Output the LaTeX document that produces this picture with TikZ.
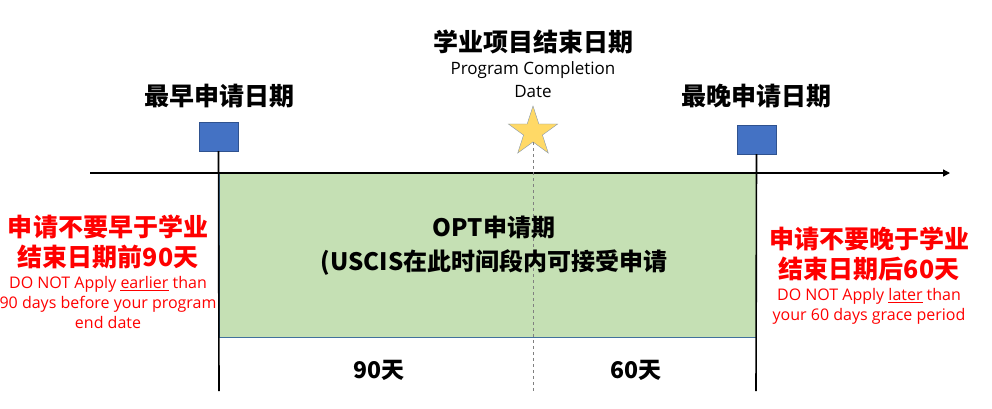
\documentclass[tikz,border=0pt]{standalone}
\usepackage{fontspec}
\setmainfont{Noto Sans CJK SC}
\newfontfamily\enfont{Open Sans}
\usetikzlibrary{shapes.geometric,arrows.meta,positioning}

\definecolor{optgreen}{HTML}{C5E0B4}
\definecolor{optedge}{HTML}{41719C}
\definecolor{flagblue}{HTML}{4472C4}
\definecolor{flagedge}{HTML}{2F528F}
\definecolor{stargold}{HTML}{FFD966}
\definecolor{staredge}{HTML}{8497B0}

\begin{document}
\begin{tikzpicture}[x=1pt,y=-1pt,
  flag/.style={draw=flagedge,fill=flagblue,minimum width=39pt,minimum height=29pt,inner sep=0pt},
  title/.style={font=\fontsize{25}{30}\selectfont\bfseries},
  warn/.style={text=red,align=center,inner sep=0pt,font=\fontsize{25}{30}\selectfont\bfseries},
  note/.style={text=red,align=center,inner sep=0pt,font=\enfont\fontsize{16}{20}\selectfont},
  pole/.style={line width=1.6pt}]
 \useasboundingbox (0,0) rectangle (992,408);

 % period box and axis
 \node[draw=optedge,fill=optgreen,minimum width=537pt,minimum height=164pt,inner sep=0pt] (optbox) at (487.5,255) {};
 \coordinate (axL) at (90,173);
 \coordinate (axR) at (950,173);
 \draw[line width=1.3pt,-{Triangle[length=7pt,width=7pt]}] (axL) -- (axR);

 % flags and end date
 \node[flag] (flagE) at (218.5,136.5) {};
 \node[flag] (flagL) at (756.5,139.5) {};
 \node[star,star points=5,star point ratio=2.618,minimum size=52pt,inner sep=0pt,
       draw=staredge,fill=stargold] (end) at (533,132) {};
 \coordinate (poleE) at (219,391);
 \coordinate (poleL) at (756,391);
 \coordinate (endB) at (533,391);
 \draw[pole] (flagE.south) -- (poleE);
 \draw[pole] (flagL.south) -- (poleL);
 \draw[gray,dashed,line width=0.9pt] (end.south) -- (endB);

 % titles
 \node[title] (tEnd) at (533,42) {学业项目结束日期};
 \node[align=center,font=\enfont\fontsize{17}{23}\selectfont] (tEndEn) at (533,80) {Program Completion\\Date};
 \node[title] (tEarly) at (219,96) {最早申请日期};
 \node[title] (tLate) at (756,96) {最晚申请日期};

 % warnings
 \node[warn] (wEarly) at (108,242) {申请不要早于学业\\结束日期前90天};
 \node[note,below=7pt of wEarly] (nEarly) {DO NOT Apply \underline{earlier} than\\90 days before your program\\end date};
 \node[warn] (wLate) at (869,254) {申请不要晚于学业\\结束日期后60天};
 \node[note,below=7pt of wLate] (nLate) {DO NOT Apply \underline{later} than\\your 60 days grace period};

 % period texts
 \node[align=center,font=\fontsize{24}{34}\selectfont\bfseries] (tOpt) at (494,246) {OPT申请期\\(USCIS在此时间段内可接受申请};
 \node[font=\fontsize{23}{28}\selectfont\bfseries] (d90) at (379,370) {90天};
 \node[font=\fontsize{23}{28}\selectfont\bfseries] (d60) at (636,370) {60天};
\end{tikzpicture}
\end{document}
